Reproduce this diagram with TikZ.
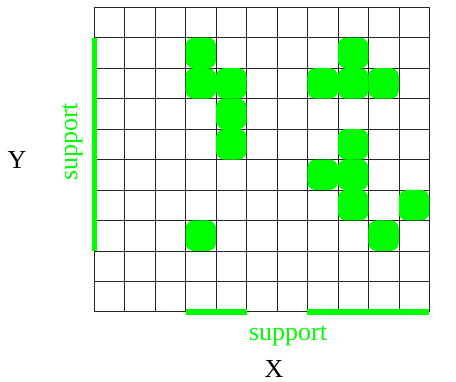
\documentclass[tikz,border=0pt]{standalone}
\usepackage{fontspec}
\setmainfont{Liberation Serif}
\definecolor{supgreen}{RGB}{0,255,0}
\begin{document}
\begin{tikzpicture}[x=1pt,y=-1pt,
  gridline/.style={line width=0.6pt, draw=black!85},
  cell/.style={fill=supgreen, draw=none, rounded corners=8pt, minimum width=30.45pt, minimum height=30.45pt, inner sep=0pt},
  supbar/.style={draw=supgreen, line width=5.5pt},
  lbl/.style={font=\fontsize{26}{30}\selectfont, inner sep=0pt},
  suplbl/.style={lbl, text=supgreen}]
\useasboundingbox (0,0) rectangle (456,382);
\begin{scope}[shift={(94.3pt,-7.3pt)}, x=30.45pt, y=-30.45pt]
  \foreach \i in {0,...,11} \draw[gridline] (\i,0) -- (\i,10);
  \foreach \j in {0,...,10} \draw[gridline] (0,\j) -- (11,\j);
  \foreach \c/\r in {3/1,3/2,4/2,4/3,4/4,3/7,8/1,7/2,8/2,9/2,8/4,7/5,8/5,8/6,10/6,9/7}
    \node[cell] (c-\c-\r) at (\c+0.5,\r+0.5) {};
  \coordinate (ya) at (0,1);
  \coordinate (yb) at (0,8);
  \coordinate (xa) at (3,10);
  \coordinate (xb) at (5,10);
  \coordinate (xc) at (7,10);
  \coordinate (xd) at (11,10);
  \draw[supbar] (ya) -- (yb);
  \draw[supbar] (xa) -- (xb);
  \draw[supbar] (xc) -- (xd);
\end{scope}
\node[lbl] (ylab) at (17,160) {Y};
\node[suplbl, rotate=90] (ysup) at (72.5,142) {support};
\node[suplbl] (xsup) at (288,336) {support};
\node[lbl] (xlab) at (274,369) {X};
\end{tikzpicture}
\end{document}
